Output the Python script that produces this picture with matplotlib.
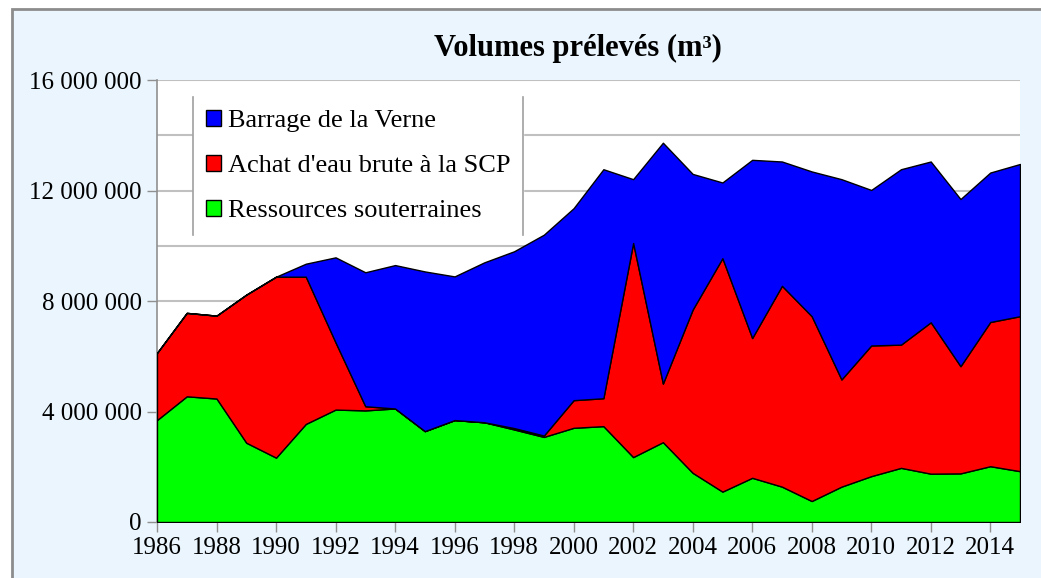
import matplotlib.pyplot as plt
from matplotlib.patches import Patch, Rectangle
from matplotlib.lines import Line2D
from matplotlib.ticker import FuncFormatter, MultipleLocator

years = list(range(1986, 2016))

# volumes in millions of m3
souterraines = [3.69, 4.55, 4.47, 2.87, 2.33, 3.55, 4.07, 4.04, 4.11, 3.29,
                3.69, 3.61, 3.35, 3.08, 3.41, 3.47, 2.35, 2.89, 1.78, 1.10,
                1.60, 1.28, 0.76, 1.28, 1.66, 1.96, 1.75, 1.76, 2.02, 1.84]
achat_scp = [2.43, 3.02, 3.00, 5.36, 6.55, 5.33, 2.43, 0.15, 0.0, 0.0,
             0.0, 0.0, 0.05, 0.05, 1.00, 1.01, 7.75, 2.12, 5.91, 8.45,
             5.06, 7.27, 6.69, 3.88, 4.73, 4.46, 5.48, 3.88, 5.22, 5.61]
barrage = [0.0, 0.0, 0.0, 0.0, 0.0, 0.47, 3.08, 4.85, 5.19, 5.78,
           5.20, 5.79, 6.40, 7.27, 6.95, 8.29, 2.31, 8.72, 4.91, 2.74,
           6.45, 4.50, 5.24, 7.25, 5.63, 6.35, 5.82, 6.05, 5.41, 5.51]

labels = ["Barrage de la Verne", "Achat d'eau brute à la SCP", "Ressources souterraines"]
colors = {"Barrage de la Verne": "#0000ff",
          "Achat d'eau brute à la SCP": "#ff0000",
          "Ressources souterraines": "#00ff00"}

plt.rcParams['font.family'] = ['Liberation Serif', 'DejaVu Serif']

fig = plt.figure(figsize=(10.41, 5.78), dpi=100, facecolor="white")
# light blue chart area with grey border (partly cropped)
fig.patches.append(Rectangle((12 / 1041, -0.1), 1.2, 1 - 9 / 578 + 0.1,
                             transform=fig.transFigure, facecolor="#eaf5fd",
                             edgecolor="#8c8c8c", linewidth=2, zorder=-1))

ax = fig.add_axes([157 / 1041, 1 - 522 / 578, 863 / 1041, 442 / 578])
ax.set_facecolor("white")

m = 1e6
g = [v * m for v in souterraines]
r = [v * m for v in achat_scp]
b = [v * m for v in barrage]
ax.stackplot(years, g, r, b,
             colors=[colors[labels[2]], colors[labels[1]], colors[labels[0]]],
             edgecolor="black", linewidth=1.0, zorder=3)

ax.set_xlim(1986, 2015)
ax.set_ylim(0, 16e6)
ax.yaxis.set_major_locator(MultipleLocator(4e6))
ax.yaxis.set_minor_locator(MultipleLocator(2e6))
ax.xaxis.set_major_locator(MultipleLocator(2))
ax.yaxis.set_major_formatter(FuncFormatter(lambda v, p: f"{int(v):,}".replace(",", " ")))
ax.grid(axis="y", which="both", color="#c0c0c0", linewidth=1.5, zorder=0)
ax.tick_params(axis="both", which="major", labelsize=18, length=7, width=1,
               color="#909090", pad=4)
ax.tick_params(axis="y", which="minor", length=0)
for s in ["top", "right"]:
    ax.spines[s].set_visible(False)
for s in ["left", "bottom"]:
    ax.spines[s].set_color("#909090")
    ax.spines[s].set_linewidth(1.2)

fig.text(578 / 1041, 1 - 48 / 578, "Volumes prélevés (m³)", ha="center", va="center",
         fontsize=22, fontweight="bold")

handles = [Patch(facecolor=colors[l], edgecolor="black", linewidth=1) for l in labels]
leg = ax.legend(handles, labels, loc="upper left", bbox_to_anchor=(0.042, 0.962),
                borderaxespad=0, fontsize=19, frameon=True, fancybox=False,
                facecolor="white", edgecolor="white", framealpha=1,
                handlelength=0.55, handleheight=0.55, handletextpad=0.25,
                labelspacing=0.86, borderpad=0.5)
leg.set_zorder(5)
fig.canvas.draw()
bb = leg.get_window_extent().transformed(fig.transFigure.inverted())
for xx in (bb.x0, bb.x1):
    fig.add_artist(Line2D([xx, xx], [bb.y0, bb.y1], color="#a0a0a0", linewidth=1.2,
                          transform=fig.transFigure, zorder=6))

fig.savefig("out.png", dpi=100, facecolor=fig.get_facecolor())
